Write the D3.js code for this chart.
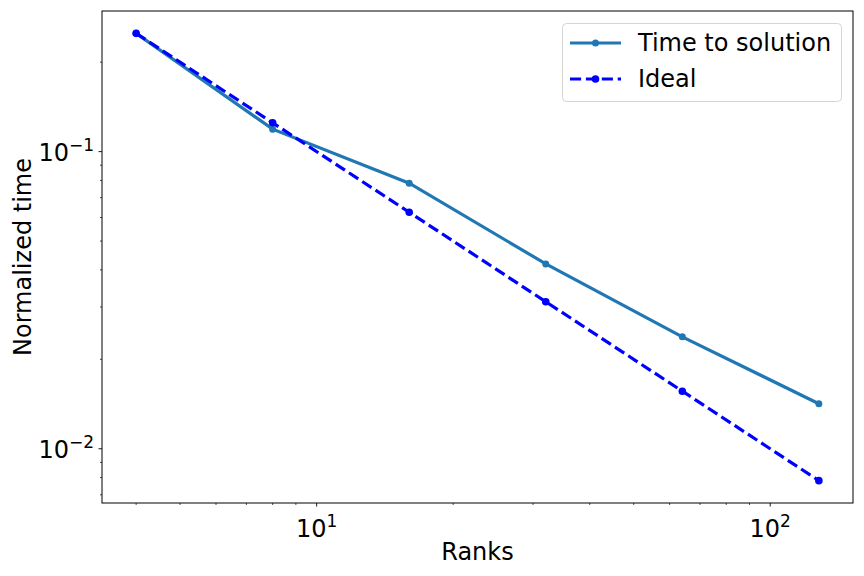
<!DOCTYPE html>
<html>
<head>
<meta charset="utf-8">
<script src="https://cdn.jsdelivr.net/npm/d3@7"></script>
<style>
  body { margin: 0; background: #fff; }
  text { font-family: "DejaVu Sans", sans-serif; fill: #000; }
</style>
</head>
<body>
<div id="chart"></div>
<script>
// data
var ranks = [4, 8, 16, 32, 64, 128];
var timeToSolution = [0.25, 0.119, 0.0783, 0.0419, 0.0238, 0.01418];
var ideal = [0.25, 0.125, 0.0625, 0.03125, 0.015625, 0.0078125];
var seriesNames = ["Time to solution", "Ideal"];

var w = 864, h = 576;
var pLeft = 102, pRight = 853, pTop = 11, pBottom = 503;

var svg = d3.select("#chart").append("svg")
    .attr("width", w)
    .attr("height", h);

// log scales with matplotlib style 5% margins in log space
function padLog(lo, hi) {
    var a = Math.log10(lo), b = Math.log10(hi), m = (b - a) * 0.05;
    return [Math.pow(10, a - m), Math.pow(10, b + m)];
}
var allY = timeToSolution.concat(ideal);
var x = d3.scaleLog().domain(padLog(d3.min(ranks), d3.max(ranks))).range([pLeft, pRight]);
var y = d3.scaleLog().domain(padLog(d3.min(allY), d3.max(allY))).range([pBottom, pTop]);

function logTicks(scale) {
    var d = scale.domain(), out = [];
    var lo = Math.floor(Math.log10(d[0])), hi = Math.ceil(Math.log10(d[1]));
    for (var e = lo; e <= hi; e++) {
        for (var k = 1; k < 10; k++) {
            var v = k * Math.pow(10, e);
            if (v >= d[0] && v <= d[1]) out.push({v: v, major: k === 1, e: e});
        }
    }
    return out;
}

// x ticks
var xt = svg.append("g");
logTicks(x).forEach(function (t) {
    var px = x(t.v);
    xt.append("line").attr("x1", px).attr("x2", px)
      .attr("y1", pBottom).attr("y2", pBottom + (t.major ? 3.5 : 2))
      .attr("stroke", "#000").attr("stroke-width", t.major ? 0.9 : 0.7);
    if (t.major) {
        var lab = xt.append("text").attr("x", px).attr("y", pBottom + 34)
            .attr("text-anchor", "middle").style("font-size", "24px");
        lab.append("tspan").text("10");
        lab.append("tspan").attr("dy", -10).style("font-size", "17px").text(t.e);
    }
});

// y ticks
var yt = svg.append("g");
logTicks(y).forEach(function (t) {
    var py = y(t.v);
    yt.append("line").attr("x1", pLeft - (t.major ? 3.5 : 2)).attr("x2", pLeft)
      .attr("y1", py).attr("y2", py)
      .attr("stroke", "#000").attr("stroke-width", t.major ? 0.9 : 0.7);
    if (t.major) {
        var lab = yt.append("text").attr("x", pLeft - 8).attr("y", py + 9)
            .attr("text-anchor", "end").style("font-size", "24px");
        lab.append("tspan").text("10");
        lab.append("tspan").attr("dy", -10).style("font-size", "17px").text("\u2212" + (-t.e));
    }
});

// lines
var line = d3.line()
    .x(function (d) { return x(d[0]); })
    .y(function (d) { return y(d[1]); });

var series = [
    {name: seriesNames[0], vals: timeToSolution, color: "#1f77b4", dash: null, r: 3.5},
    {name: seriesNames[1], vals: ideal, color: "#0000ff", dash: "11.1,4.8", r: 3.8}
];

series.forEach(function (s) {
    var pts = ranks.map(function (r, i) { return [r, s.vals[i]]; });
    svg.append("path").datum(pts)
        .attr("d", line)
        .attr("fill", "none")
        .attr("stroke", s.color)
        .attr("stroke-width", 3.2)
        .attr("stroke-dasharray", s.dash);
    svg.selectAll(null).data(pts).enter().append("circle")
        .attr("cx", function (d) { return x(d[0]); })
        .attr("cy", function (d) { return y(d[1]); })
        .attr("r", s.r)
        .attr("fill", s.color);
});

// frame
svg.append("rect")
    .attr("x", pLeft).attr("y", pTop)
    .attr("width", pRight - pLeft).attr("height", pBottom - pTop)
    .attr("fill", "none").attr("stroke", "#000").attr("stroke-width", 1);

// axis labels
svg.append("text").attr("x", (pLeft + pRight) / 2).attr("y", 560)
    .attr("text-anchor", "middle").style("font-size", "24px").text("Ranks");
svg.append("text")
    .attr("transform", "translate(31," + ((pTop + pBottom) / 2) + ") rotate(-90)")
    .attr("text-anchor", "middle").style("font-size", "24px").text("Normalized time");

// legend
var lg = svg.append("g");
lg.append("rect").attr("x", 562.5).attr("y", 23.5).attr("width", 279).attr("height", 78)
    .attr("rx", 4).attr("fill", "#fff").attr("fill-opacity", 0.8)
    .attr("stroke", "#d5d5d5").attr("stroke-width", 1);
series.forEach(function (s, i) {
    var ly = 43 + i * 36;
    lg.append("line").attr("x1", 570).attr("x2", 621).attr("y1", ly).attr("y2", ly)
        .attr("stroke", s.color).attr("stroke-width", 3.2).attr("stroke-dasharray", s.dash);
    lg.append("circle").attr("cx", 595.5).attr("cy", ly).attr("r", s.r).attr("fill", s.color);
    lg.append("text").attr("x", 638).attr("y", ly + 8).style("font-size", "24px").text(s.name);
});
</script>
</body>
</html>
